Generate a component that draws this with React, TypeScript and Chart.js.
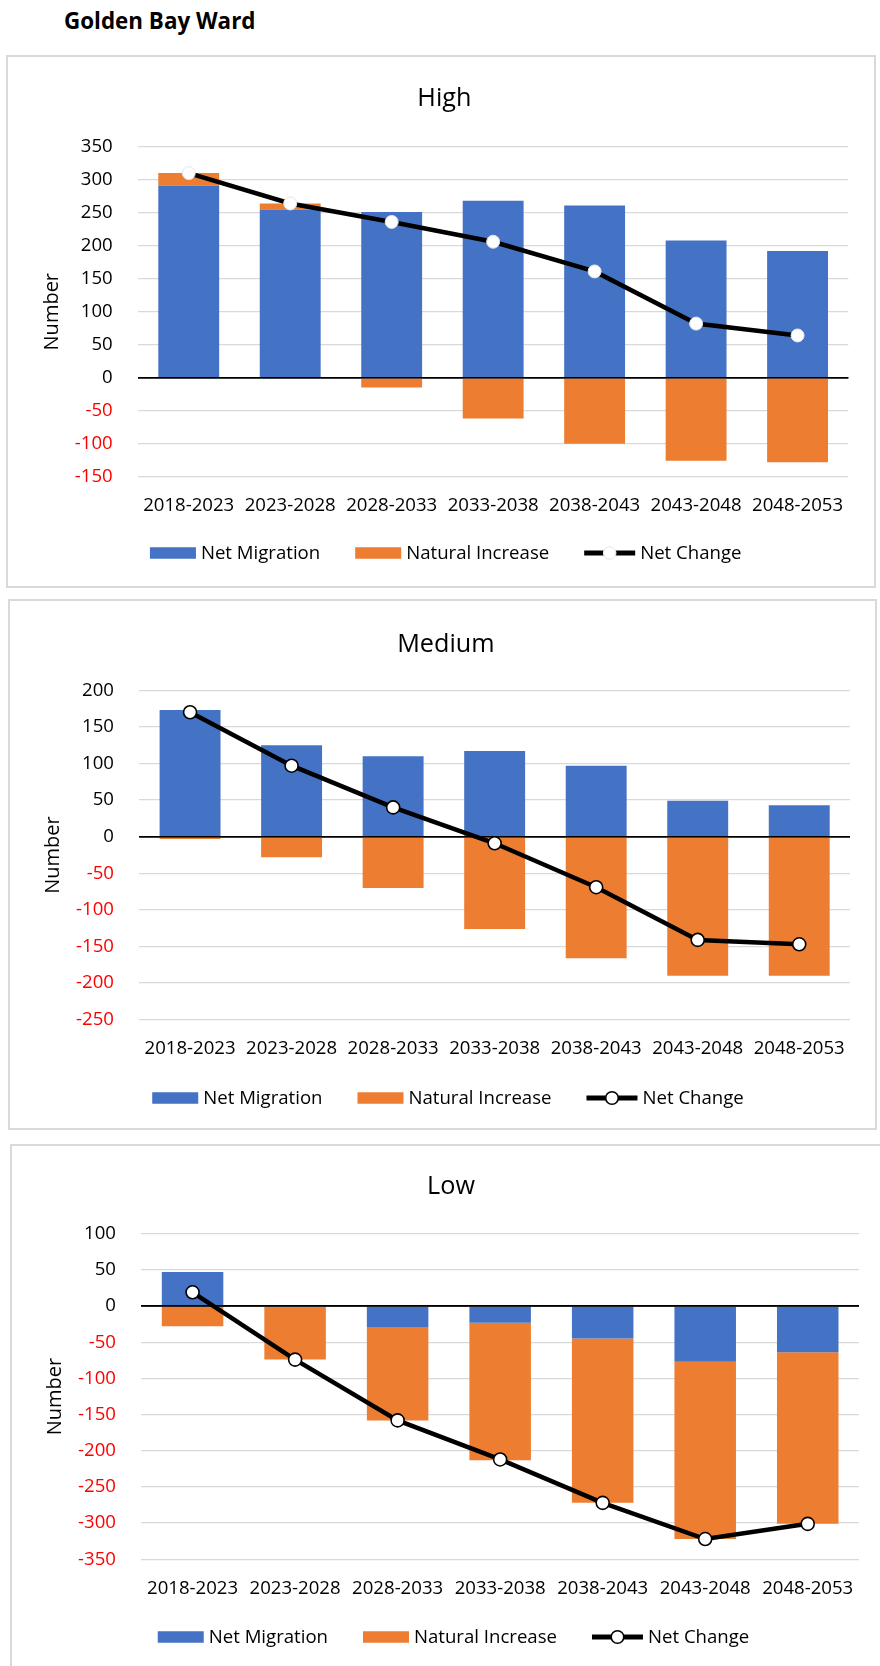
import React, { useEffect, useRef } from 'react';
import { Chart, registerables } from 'chart.js';

Chart.register(...registerables);
const FONT_FAMILY = '"Open Sans", "Noto Sans", sans-serif';
Chart.defaults.font.family = FONT_FAMILY;

// ---------- DATA ----------
const categories = ['2018-2023', '2023-2028', '2028-2033', '2033-2038', '2038-2043', '2043-2048', '2048-2053'];
const seriesNames = ['Net Migration', 'Natural Increase', 'Net Change'];

const highNetMigration = [291, 255, 251, 268, 261, 208, 192];
const highNaturalIncrease = [19, 9, -15, -62, -100, -126, -128];
const highNetChange = [310, 264, 236, 206, 161, 82, 64];
const highYRange = [-150, 350, 50];

const mediumNetMigration = [173, 125, 110, 117, 97, 49, 43];
const mediumNaturalIncrease = [-3, -28, -70, -126, -166, -190, -190];
const mediumNetChange = [170, 97, 40, -9, -69, -141, -147];
const mediumYRange = [-250, 200, 50];

const lowNetMigration = [47, -2, -29, -23, -45, -77, -64];
const lowNaturalIncrease = [-28, -72, -129, -190, -227, -245, -237];
const lowNetChange = [19, -74, -158, -212, -272, -322, -301];
const lowYRange = [-350, 100, 50];

// ---------- STYLE ----------
const BLUE = '#4472C4';
const ORANGE = '#ED7D31';
const TICK_SIZE = 18.6;
const TITLE_SIZE = 25.2;
const AXIS_TITLE_SIZE = 20;
const LEGEND_SIZE = 18.6;
const BORDER = 2;
const X_AXIS_HEIGHT = 46;
const BASELINE_FIX = 1.2; // canvas "middle" vs visual cap centre

const legendPlugin = {
  id: 'customLegend',
  afterDraw(chart: any, _args: any, opts: any) {
    if (!opts || !opts.items) return;
    const ctx = chart.ctx;
    ctx.save();
    ctx.font = `${LEGEND_SIZE}px ${FONT_FAMILY}`;
    const iconGap = 5;
    const itemGap = 35;
    const widths = opts.items.map((it: any) => it.iconW + iconGap + ctx.measureText(it.text).width);
    const total = widths.reduce((a: number, b: number) => a + b, 0) + itemGap * (widths.length - 1);
    let x = opts.cx - total / 2;
    const y = opts.cy;
    opts.items.forEach((it: any, i: number) => {
      if (it.kind === 'rect') {
        ctx.fillStyle = it.color;
        ctx.fillRect(x, y - 5.75, it.iconW, 11.5);
      } else {
        ctx.strokeStyle = '#000';
        ctx.lineWidth = 5;
        ctx.beginPath();
        ctx.moveTo(x, y);
        ctx.lineTo(x + it.iconW, y);
        ctx.stroke();
        ctx.beginPath();
        ctx.arc(x + it.iconW / 2, y, 6.3, 0, Math.PI * 2);
        ctx.fillStyle = '#fff';
        ctx.fill();
        ctx.lineWidth = it.markerBorderWidth;
        ctx.strokeStyle = it.markerBorder;
        ctx.stroke();
      }
      ctx.fillStyle = '#000';
      ctx.textAlign = 'left';
      ctx.textBaseline = 'middle';
      ctx.fillText(it.text, x + it.iconW + iconGap, y + BASELINE_FIX);
      x += widths[i] + itemGap;
    });
    ctx.restore();
  },
};

const zeroLinePlugin = {
  id: 'zeroLine',
  beforeDatasetDraw(chart: any, args: any) {
    if (args.index !== 2) return;
    const y = chart.scales.y.getPixelForValue(0);
    const { left, right } = chart.chartArea;
    const ctx = chart.ctx;
    ctx.save();
    ctx.strokeStyle = '#000';
    ctx.lineWidth = 1.6;
    ctx.beginPath();
    ctx.moveTo(left, y);
    ctx.lineTo(right, y);
    ctx.stroke();
    ctx.restore();
  },
};

type Box = { x: number; y: number; w: number; h: number };
type Plot = { left: number; top: number; right: number; bottom: number };

interface PanelProps {
  title: string;
  nm: number[];
  ni: number[];
  net: number[];
  yRange: number[];
  box: Box;
  plot: Plot;
  titleY: number;
  legendX: number;
  legendY: number;
  xLabelY: number;
  yLabelRight: number;
  yTitleX: number;
  markerBorder: string;
  markerBorderWidth: number;
}

function Panel(p: PanelProps) {
  const ref = useRef<HTMLCanvasElement>(null);
  const W = p.box.w - 2 * BORDER;
  const H = p.box.h - 2 * BORDER;

  useEffect(() => {
    if (!ref.current) return;
    const cx = p.box.x + BORDER;
    const cy = p.box.y + BORDER;
    const axisTitleLH = AXIS_TITLE_SIZE * 1.2;
    const padLeft = p.yTitleX - cx - axisTitleLH / 2;
    const yAxisWidth = p.plot.left - cx - padLeft;
    const yTickPad = p.plot.left - p.yLabelRight;
    const padRight = cx + W - p.plot.right;
    const titleLH = TITLE_SIZE * 1.2;
    const titlePadTop = p.titleY + BASELINE_FIX - cy - titleLH / 2;
    const titlePadBottom = p.plot.top - cy - titlePadTop - titleLH;
    const padBottom = H - (p.plot.bottom - cy) - X_AXIS_HEIGHT;
    const xTickPad = p.xLabelY + BASELINE_FIX - p.plot.bottom - (TICK_SIZE * 1.2) / 2;

    const chart = new Chart(ref.current, {
      type: 'bar',
      data: {
        labels: categories,
        datasets: [
          {
            type: 'bar',
            label: seriesNames[0],
            data: p.nm,
            backgroundColor: BLUE,
            borderWidth: 0,
            order: 1,
            barPercentage: 1,
            categoryPercentage: 0.6,
          },
          {
            type: 'bar',
            label: seriesNames[1],
            data: p.ni,
            backgroundColor: ORANGE,
            borderWidth: 0,
            order: 1,
            barPercentage: 1,
            categoryPercentage: 0.6,
          },
          {
            type: 'line',
            label: seriesNames[2],
            data: p.net,
            borderColor: '#000',
            borderWidth: 4.5,
            pointRadius: 6.5,
            pointBackgroundColor: '#fff',
            pointBorderColor: p.markerBorder,
            pointBorderWidth: p.markerBorderWidth,
            tension: 0,
            order: 0,
          } as any,
        ],
      },
      options: {
        responsive: false,
        animation: false,
        layout: { padding: { left: padLeft, right: padRight, top: 0, bottom: padBottom } },
        scales: {
          x: {
            stacked: true,
            grid: { display: false, drawTicks: false },
            border: { display: false },
            ticks: {
              color: '#000',
              font: { size: TICK_SIZE },
              padding: xTickPad,
              maxRotation: 0,
              autoSkip: false,
            },
            afterFit: (s: any) => {
              s.height = X_AXIS_HEIGHT;
            },
          },
          y: {
            stacked: true,
            min: p.yRange[0],
            max: p.yRange[1],
            grid: {
              color: (c: any) => (c.tick && c.tick.value === 0 ? '#000' : '#D9D9D9'),
              lineWidth: (c: any) => (c.tick && c.tick.value === 0 ? 1.6 : 1.3),
              drawTicks: false,
            },
            border: { display: false },
            ticks: {
              stepSize: p.yRange[2],
              padding: yTickPad,
              font: { size: TICK_SIZE },
              color: (c: any) => (c.tick && c.tick.value < 0 ? '#FF0000' : '#000'),
            },
            title: {
              display: true,
              text: 'Number',
              color: '#000',
              font: { size: AXIS_TITLE_SIZE },
              padding: 0,
            },
            afterFit: (s: any) => {
              s.width = yAxisWidth;
            },
          },
        },
        plugins: {
          tooltip: { enabled: false },
          legend: { display: false },
          title: {
            display: true,
            text: p.title,
            color: '#000',
            font: { size: TITLE_SIZE, weight: 'normal' },
            padding: { top: titlePadTop, bottom: titlePadBottom },
          },
          customLegend: {
            cx: p.legendX - cx,
            cy: p.legendY - cy,
            items: [
              { kind: 'rect', text: seriesNames[0], color: BLUE, iconW: 46 },
              { kind: 'rect', text: seriesNames[1], color: ORANGE, iconW: 46 },
              {
                kind: 'line',
                text: seriesNames[2],
                iconW: 51,
                markerBorder: p.markerBorder,
                markerBorderWidth: p.markerBorderWidth,
              },
            ],
          },
        },
      } as any,
      plugins: [zeroLinePlugin, legendPlugin],
    });
    return () => chart.destroy();
  }, []);

  return (
    <div
      style={{
        position: 'absolute',
        left: p.box.x,
        top: p.box.y,
        width: p.box.w,
        height: p.box.h,
        boxSizing: 'border-box',
        border: `${BORDER}px solid #D9D9D9`,
        background: '#fff',
      }}
    >
      <canvas ref={ref} width={W} height={H} style={{ display: 'block', width: W, height: H }} />
    </div>
  );
}

export default function App() {
  return (
    <div
      style={{
        position: 'absolute',
        left: 0,
        top: 0,
        width: 880,
        height: 1666,
        overflow: 'hidden',
        background: '#fff',
      }}
    >
      <div
        style={{
          position: 'absolute',
          left: 64,
          top: 7.6,
          fontFamily: FONT_FAMILY,
          fontWeight: 'bold',
          fontSize: 22.4,
          lineHeight: '26px',
          color: '#000',
          whiteSpace: 'nowrap',
        }}
      >
        Golden Bay Ward
      </div>
      <Panel
        title="High"
        nm={highNetMigration}
        ni={highNaturalIncrease}
        net={highNetChange}
        yRange={highYRange}
        box={{ x: 6, y: 55, w: 870, h: 533 }}
        plot={{ left: 138, top: 146.7, right: 848.3, bottom: 476.7 }}
        titleY={98}
        legendX={445.7}
        legendY={553}
        xLabelY={505}
        yLabelRight={112.7}
        yTitleX={52.5}
        markerBorder="#E4E4E4"
        markerBorderWidth={1}
      />
      <Panel
        title="Medium"
        nm={mediumNetMigration}
        ni={mediumNaturalIncrease}
        net={mediumNetChange}
        yRange={mediumYRange}
        box={{ x: 8, y: 599, w: 869, h: 531 }}
        plot={{ left: 139.3, top: 690.3, right: 850, bottom: 1019.7 }}
        titleY={644}
        legendX={448}
        legendY={1098}
        xLabelY={1048}
        yLabelRight={114}
        yTitleX={53.7}
        markerBorder="#000"
        markerBorderWidth={1.6}
      />
      <Panel
        title="Low"
        nm={lowNetMigration}
        ni={lowNaturalIncrease}
        net={lowNetChange}
        yRange={lowYRange}
        box={{ x: 10, y: 1144, w: 878, h: 530 }}
        plot={{ left: 141.3, top: 1233.7, right: 859, bottom: 1559.3 }}
        titleY={1186}
        legendX={453.5}
        legendY={1637}
        xLabelY={1588}
        yLabelRight={116}
        yTitleX={55}
        markerBorder="#000"
        markerBorderWidth={1.6}
      />
    </div>
  );
}
